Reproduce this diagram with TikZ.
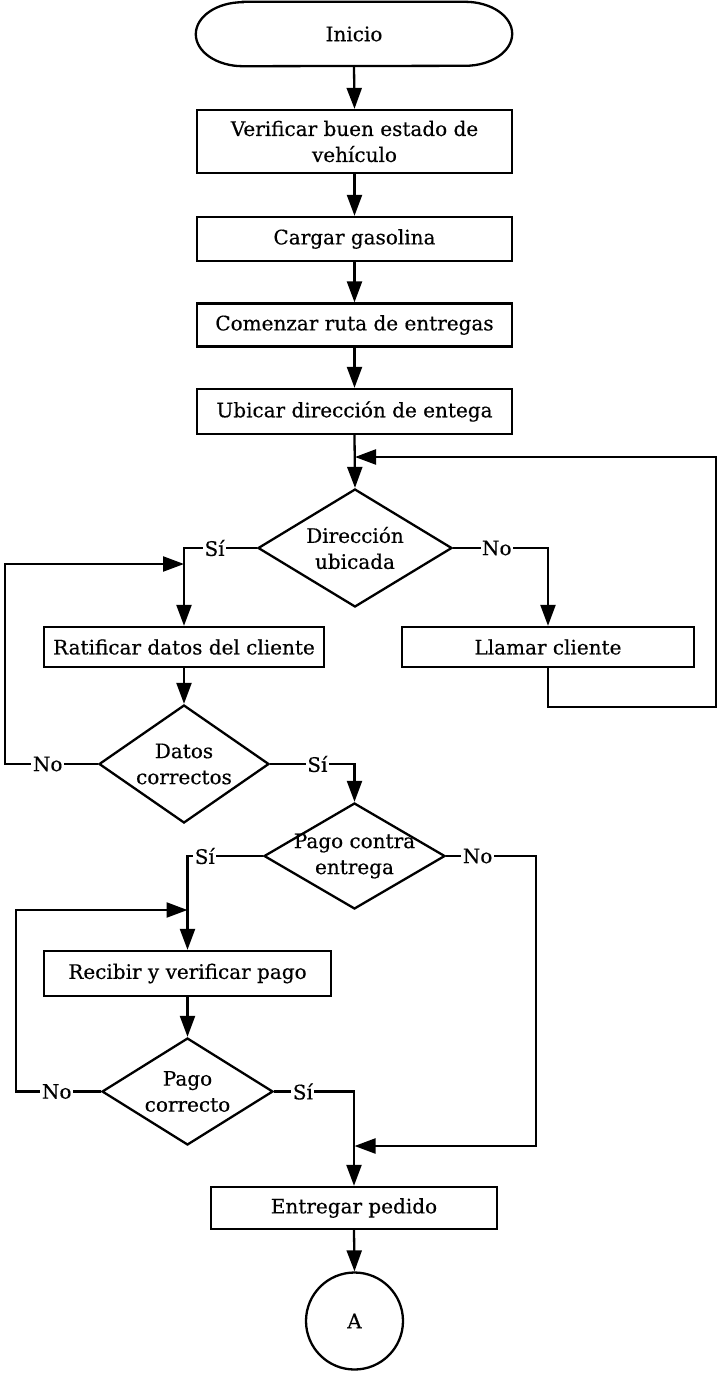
\documentclass[tikz,border=0pt]{standalone}
\usepackage{fontspec}
\setmainfont{DejaVu Serif}[FakeBold=0.4]
\usetikzlibrary{shapes.geometric,arrows.meta}

\begin{document}
\begin{tikzpicture}[x=1pt,y=-1pt,
  every node/.style={font=\fontsize{20}{26}\selectfont},
  box/.style={draw, line width=2.3pt, rectangle, inner sep=0pt, align=center},
  dec/.style={draw, line width=2.3pt, diamond, inner sep=0pt},
  conn/.style={line width=2.3pt},
  arr/.style={conn, -{Triangle[length=21pt,width=15pt]}},
  lbl/.style={fill=white, inner sep=1.5pt},
]
\useasboundingbox (0,0) rectangle (718,1374);

% terminal with elliptical ends
\node (start) [minimum width=316pt, minimum height=64pt, inner sep=0pt] at (354,34) {Inicio};
\draw[conn] ([xshift=47pt]start.north west) -- ([xshift=-47pt]start.north east)
  arc[start angle=90, end angle=-90, x radius=47pt, y radius=32pt]
  -- ([xshift=47pt]start.south west)
  arc[start angle=270, end angle=90, x radius=47pt, y radius=32pt] -- cycle;

% process steps
\node (b1) [box, minimum width=315pt, minimum height=63pt] at (354.5,141.5) {Verificar buen estado de\\vehículo};
\node (b2) [box, minimum width=315pt, minimum height=44pt] at (354.5,239) {Cargar gasolina};
\node (b3) [box, minimum width=315pt, minimum height=43pt] at (354.5,325) {Comenzar ruta de entregas};
\node (b4) [box, minimum width=315pt, minimum height=45pt] at (354.5,411.5) {Ubicar dirección de entega};

\node (d1) [dec, minimum width=194pt, minimum height=118pt,
  label={[align=center]center:Dirección\\ubicada}] at (355,548) {};
\node (r1) [box, minimum width=280pt, minimum height=40pt] at (184,647) {Ratificar datos del cliente};
\node (ll) [box, minimum width=292pt, minimum height=40pt] at (548,647) {Llamar cliente};

\node (d2) [dec, minimum width=170pt, minimum height=118pt,
  label={[align=center]center:Datos\\correctos}] at (184,764) {};
\node (d3) [dec, minimum width=181pt, minimum height=106pt,
  label={[align=center]center:Pago contra\\entrega}] at (354.5,856) {};
\node (rp) [box, minimum width=287pt, minimum height=45pt] at (187.5,973.5) {Recibir y verificar pago};
\node (d4) [dec, minimum width=171pt, minimum height=107pt,
  label={[align=center]center:Pago\\correcto}] at (187.5,1091.5) {};
\node (ep) [box, minimum width=286pt, minimum height=42pt] at (354,1208) {Entregar pedido};
\node (A) [draw, line width=2.3pt, circle, minimum size=97pt, inner sep=0pt] at (354.5,1321) {A};

% junction and bend points
\coordinate (j1) at (355,457);
\coordinate (c1) at (716,707);
\coordinate (j2) at (184,564);
\coordinate (c2) at (5,764);
\coordinate (c4) at (536,1146);
\coordinate (j4) at (354.5,1146);
\coordinate (j3) at (187.5,910);
\coordinate (c3) at (16,1091.5);

% main flow
\draw[arr] (start.south) -- (b1.north);
\draw[arr] (b1.south) -- (b2.north);
\draw[arr] (b2.south) -- (b3.north);
\draw[arr] (b3.south) -- (b4.north);
\draw[arr] (b4.south) -- (d1.north);

\draw[arr] (d1.west) -| node[lbl, pos=0.29]{Sí} (r1.north);
\draw[arr] (d1.east) -| node[lbl, pos=0.23]{No} (ll.north);
\draw[arr] (ll.south) |- (c1) |- (j1);

\draw[arr] (r1.south) -- (d2.north);
\draw[arr] (d2.west) -- node[lbl, pos=0.54]{No} (c2) |- (j2);
\draw[arr] (d2.east) -| node[lbl, pos=0.28]{Sí} (d3.north);

\draw[arr] (d3.west) -| node[lbl, pos=0.385]{Sí} (rp.north);
\draw[arr] (d3.east) -| node[lbl, pos=0.175]{No} (c4) -- (j4);

\draw[arr] (rp.south) -- (d4.north);
\draw[arr] (d4.west) -- node[lbl, pos=0.52]{No} (c3) |- (j3);
\draw[arr] (d4.east) -| node[lbl, pos=0.18]{Sí} (ep.north);

\draw[arr] (ep.south) -- (A.north);
\end{tikzpicture}
\end{document}
